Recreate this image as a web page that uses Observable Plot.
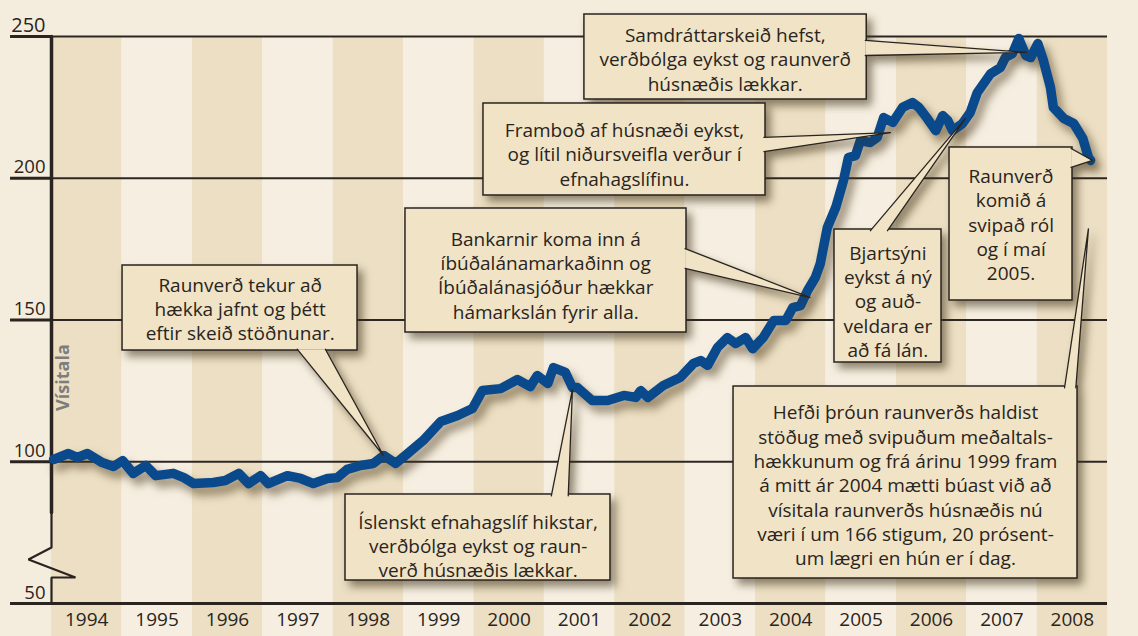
<!DOCTYPE html>
<html><head><meta charset="utf-8">
<script src="https://cdn.jsdelivr.net/npm/d3@7"></script>
<script src="https://cdn.jsdelivr.net/npm/@observablehq/plot@0.6"></script>
<style>
html,body{margin:0;padding:0;background:#f4ecdc;}
#chart svg{display:block}
</style></head><body><div id="chart"></div><script>
// ---- data ----
const years = [1994,1995,1996,1997,1998,1999,2000,2001,2002,2003,2004,2005,2006,2007,2008];
const yTicks = [50,100,150,200,250];
const t = [1994.03,1994.24,1994.37,1994.51,1994.72,1994.88,
1995.01,1995.16,1995.34,1995.48,1995.73,1995.88,
1996.02,1996.30,1996.47,1996.66,1996.80,1996.97,
1997.08,1997.35,1997.54,1997.72,1997.92,
1998.06,1998.20,1998.39,1998.57,1998.72,1998.89,
1999.06,1999.28,1999.53,1999.77,1999.98,
2000.12,2000.38,2000.62,2000.80,2000.90,
2001.05,2001.13,2001.30,2001.40,2001.47,2001.68,2001.90,
2002.13,2002.30,2002.37,2002.47,2002.69,2002.93,
2003.12,2003.22,2003.32,2003.46,2003.60,2003.72,2003.86,2003.96,
2004.11,2004.26,2004.43,2004.53,2004.64,2004.74,2004.85,2004.92,
2005.02,2005.14,2005.25,2005.32,2005.42,2005.49,2005.63,2005.73,2005.82,2005.95,
2006.09,2006.23,2006.32,2006.44,2006.56,2006.66,2006.73,2006.80,2006.94,
2007.05,2007.15,2007.34,2007.48,2007.55,2007.65,2007.74,2007.84,2007.91,
2008.01,2008.09,2008.19,2008.23,2008.38,2008.52,2008.65,2008.73,2008.76];
const vIdx = [100.8,102.9,101.5,102.9,99.7,98.3,
100.4,95.9,98.7,95.1,95.9,94.4,
92.3,92.7,93.4,95.9,92.3,95.1,
92.3,95.1,94.1,92.3,94.1,
94.4,97.3,98.7,99.4,102.2,99.4,
102.9,107.5,114.2,116.3,118.8,
125.1,125.8,129.0,126.5,130.4,
127.6,133.2,131.5,126.2,126.2,121.6,121.6,
123.4,122.7,125.1,122.7,126.9,129.7,
134.7,135.7,134.0,140.3,143.8,141.7,143.8,139.9,
143.8,149.8,149.8,154.4,155.1,160.4,165.0,169.9,
182.6,189.7,199.2,207.3,208.0,213.3,212.6,214.4,221.4,219.7,
225.0,226.7,225.0,221.1,216.8,222.1,220.4,216.8,219.3,
223.2,230.2,236.9,239.1,242.6,244.0,249.3,243.3,242.6,
247.5,241.5,232.0,225.0,221.1,219.3,214.0,207.3,206.3];
const axisTitle = "Vísitala";
const notes = [
 "Samdráttarskeið hefst,\nverðbólga eykst og raunverð\nhúsnæðis lækkar.",
 "Framboð af húsnæði eykst,\nog lítil niðursveifla verður í\nefnahagslífinu.",
 "Bankarnir koma inn á\níbúðalánamarkaðinn og\nÍbúðalánasjóður hækkar\nhámarkslán fyrir alla.",
 "Raunverð tekur að\nhækka jafnt og þétt\neftir skeið stöðnunar.",
 "Íslenskt efnahagslíf hikstar,\nverðbólga eykst og raun-\nverð húsnæðis lækkar.",
 "Bjartsýni\neykst á ný\nog auð-\nveldara er\nað fá lán.",
 "Raunverð\nkomið á\nsvipað ról\nog í maí\n2005.",
 "Hefði þróun raunverðs haldist\nstöðug með svipuðum meðaltals-\nhækkunum og frá árinu 1999 fram\ná mitt ár 2004 mætti búast við að\nvísitala raunverðs húsnæðis nú\nværi í um 166 stigum, 20 prósent-\num lægri en hún er í dag."
];

// ---- layout (annotation placement in data units) ----
const boxLayout = [
 {x1:2001.57,x2:2005.58,y1:227.78,y2:257.76,tx:2003.57,ty:242.2,ptr:[[2005.56,248.6],[2007.86,244.4],[2005.56,243.3]]},
 {x1:2000.136,x2:2004.142,y1:193.92,y2:226.37,tx:2002.14,ty:208.7,ptr:[[2004.12,214.4],[2005.92,216.1],[2004.12,209.4]]},
 {x1:1999.028,x2:2003.02,y1:145.59,y2:189.33,tx:2001.02,ty:166.05,ptr:[[2003.0,175.2],[2004.78,157.9],[2003.0,168.2]]},
 {x1:1995.009,x2:1998.347,y1:139.24,y2:169.22,tx:1996.68,ty:154.2,ptr:[[1997.49,139.7],[1998.716,102.2],[1997.89,139.7]]},
 {x1:1998.176,x2:2001.94,y1:58.11,y2:88.45,tx:2000.06,ty:70.56,ptr:[[2001.10,88.0],[2001.40,125.5],[2001.34,88.0]]},
 {x1:2005.122,x2:2006.642,y1:135.01,y2:181.92,tx:2005.88,ty:156.9,ptr:[[2005.633,181.5],[2006.983,221.1],[2005.875,181.5]]},
 {x1:2006.756,x2:2008.503,y1:156.88,y2:210.85,tx:2007.63,ty:183.9,ptr:[[2008.483,210.5],[2008.787,206.3],[2008.483,203.8]]},
 {x1:2003.688,x2:2008.574,y1:58.82,y2:126.54,tx:2006.13,ty:92.0,ptr:[[2008.39,126.1],[2008.73,182.3],[2008.55,126.1]]}
];

const FONT = "'Open Sans', Lato, sans-serif";
const INK = "#2a2420";
const BOXFILL = "#f0e3c6";

const series = t.map((d,i)=>({t:d, v:vIdx[i]}));
const boxes = boxLayout.map((b,i)=>({...b, text:notes[i], id:i}));
const ptrPts = boxes.flatMap(b => b.ptr.map(([x,y]) => ({x, y, id:b.id})));

const xLeft = 1993.418, xRight = 2009;
const axisThick = [{x:1994,y:250},{x:1994,y:82.1}];
const axisBreak = [{x:1994,y:82.1},{x:1994,y:69.75},{x:1993.673,y:65.52},{x:1994.341,y:59.17},{x:1994,y:59.17},{x:1994,y:50}];

const svg = Plot.plot({
  width: 1138, height: 636,
  marginLeft: 51, marginRight: 31, marginTop: 36, marginBottom: 33,
  x: {domain: [1994, 2009], axis: null},
  y: {domain: [50, 250], axis: null},
  style: {background: "#f4ecdc", overflow: "visible", fontFamily: FONT},
  marks: [
    Plot.rect(years.filter(d => d % 2 === 0), {x1: d => d, x2: d => d + 1, y1: () => 38.3, y2: () => 250, fill: "#ecdfc3"}),
    Plot.rect(years.filter(d => d % 2 === 1), {x1: d => d, x2: d => d + 1, y1: () => 38.3, y2: () => 250, fill: "#f6efe1"}),
    Plot.ruleY(yTicks.filter(d => d > 50), {y: d => d, x1: () => 1994, x2: () => xRight, stroke: "#2d2722", strokeWidth: 1.8}),
    Plot.ruleY(yTicks.filter(d => d > 50), {y: d => d, x1: () => xLeft, x2: () => 1994, stroke: INK, strokeWidth: 3}),
    Plot.ruleY([50], {y: d => d, x1: () => xLeft, x2: () => xRight, stroke: INK, strokeWidth: 3}),
    Plot.line(axisThick, {x: "x", y: "y", stroke: INK, strokeWidth: 3.5}),
    Plot.line(axisBreak, {x: "x", y: "y", stroke: INK, strokeWidth: 2.2, strokeLinejoin: "miter"}),
    Plot.text(yTicks, {x: () => 1993.915, y: d => d, text: d => String(d), textAnchor: "end", lineAnchor: "bottom", dy: -5, fontSize: d => d === 250 ? 20 : 18.5, fill: INK, fontFamily: FONT}),
    Plot.text(years, {x: d => d + 0.5, y: () => 44.35, text: d => String(d), lineAnchor: "middle", fontSize: 19, fill: INK, fontFamily: FONT}),
    Plot.text([axisTitle], {x: () => 1994.17, y: () => 129.7, text: d => d, rotate: -90, fontSize: 18, fontWeight: "bold", fill: "#7d7d7d", fontFamily: FONT, lineAnchor: "middle"}),
    Plot.line(series, {x: "t", y: "v", stroke: "#0a4a8c", strokeWidth: 9.5, strokeLinejoin: "round", strokeLinecap: "round", ariaDescription: "indexline"}),
    Plot.rect(boxes, {x1: "x1", x2: "x2", y1: "y1", y2: "y2", fill: BOXFILL, stroke: INK, strokeWidth: 1.5, ariaDescription: "boxes"}),
    Plot.line(ptrPts, {x: "x", y: "y", z: "id", fill: BOXFILL, stroke: INK, strokeWidth: 1.3, strokeLinejoin: "miter", curve: "linear", ariaDescription: "pointers"}),
    Plot.text(boxes, {x: "tx", y: "ty", text: "text", fontSize: 19, lineHeight: 1.28, lineAnchor: "middle", fill: INK, fontFamily: FONT})
  ]
});

const lineG = svg.querySelector('g[aria-description="indexline"]');
if (lineG) lineG.setAttribute("style", "filter: drop-shadow(5px 7px 5px rgba(70,50,20,0.55))");
const boxG = svg.querySelector('g[aria-description="boxes"]');
const ptrG = svg.querySelector('g[aria-description="pointers"]');
if (boxG && ptrG) {
  const wrap = document.createElementNS("http://www.w3.org/2000/svg", "g");
  wrap.setAttribute("style", "filter: drop-shadow(5px 6px 4px rgba(60,45,20,0.55))");
  boxG.parentNode.insertBefore(wrap, boxG);
  wrap.appendChild(boxG);
  wrap.appendChild(ptrG);
}
document.getElementById("chart").appendChild(svg);
</script></body></html>
